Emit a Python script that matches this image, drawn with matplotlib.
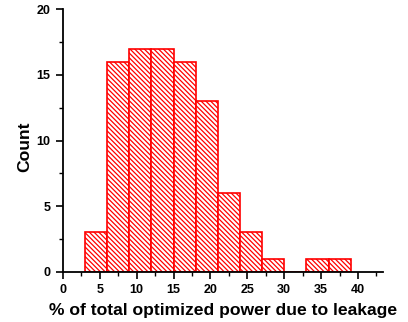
import matplotlib
matplotlib.use("Agg")
import matplotlib.pyplot as plt
from matplotlib.ticker import MultipleLocator

# histogram bins (percent leakage) and counts per bin
bin_edges = [3, 6, 9, 12, 15, 18, 21, 24, 27, 30, 33, 36, 39]
counts = [3, 16, 17, 17, 16, 13, 6, 3, 1, 0, 1, 1]

plt.rcParams["font.family"] = ["Liberation Sans", "DejaVu Sans"]
plt.rcParams["font.weight"] = "bold"
plt.rcParams["hatch.color"] = "red"
plt.rcParams["hatch.linewidth"] = 0.9

fig = plt.figure(figsize=(4.08, 3.22), dpi=100)
ax = fig.add_axes([0.154, 0.156, 0.785, 0.815])

lefts = bin_edges[:-1]
widths = [b - a for a, b in zip(bin_edges[:-1], bin_edges[1:])]
ax.bar(lefts, counts, width=widths, align="edge", facecolor="white",
       edgecolor="red", linewidth=1.2, hatch="\\" * 7)

ax.set_xlim(0, 43.4)
ax.set_ylim(0, 20)
ax.spines["top"].set_visible(False)
ax.spines["right"].set_visible(False)
for s in ("left", "bottom"):
    ax.spines[s].set_linewidth(1.3)

ax.xaxis.set_major_locator(MultipleLocator(5))
ax.xaxis.set_minor_locator(MultipleLocator(2.5))
ax.yaxis.set_major_locator(MultipleLocator(5))
ax.yaxis.set_minor_locator(MultipleLocator(2.5))
ax.tick_params(which="major", length=5, width=1.2, labelsize=9, pad=4)
ax.tick_params(which="minor", length=3, width=1.0)

ax.set_xlabel("% of total optimized power due to leakage", fontsize=12.6,
              fontweight="bold", labelpad=5)
ax.set_ylabel("Count", fontsize=12.6, fontweight="bold")
ax.yaxis.set_label_coords(-0.097, 0.475)

fig.savefig("out.png", dpi=100)
